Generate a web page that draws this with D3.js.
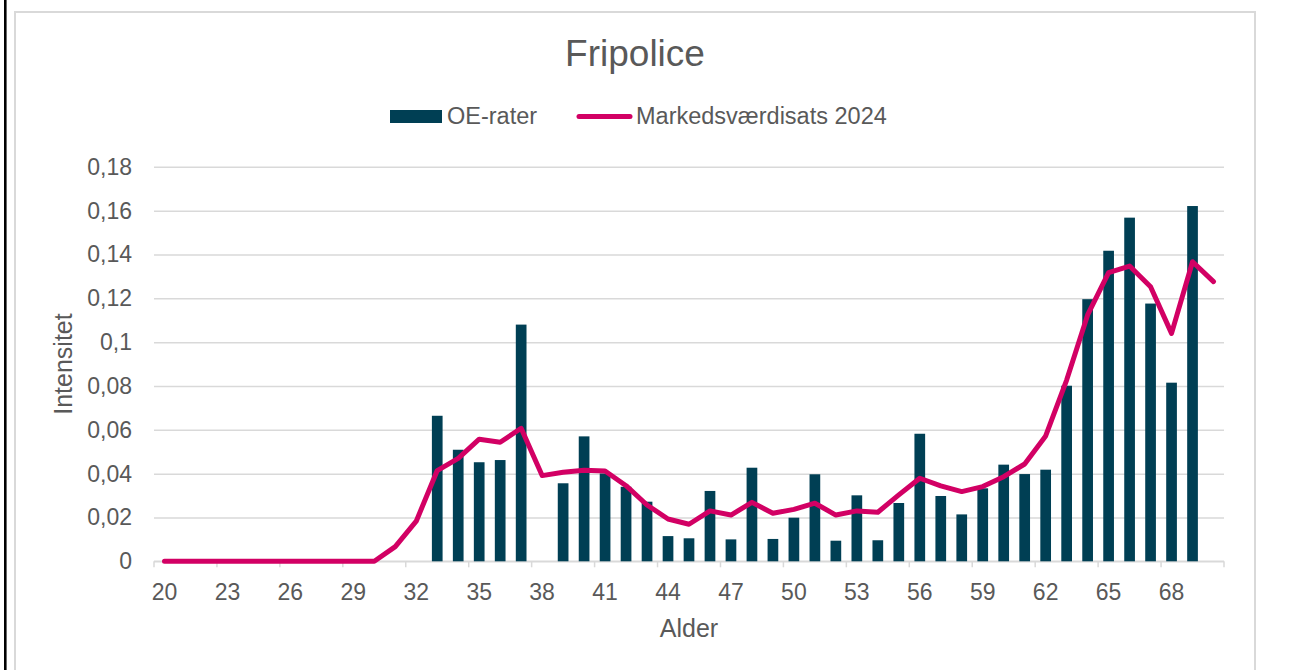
<!DOCTYPE html>
<html>
<head>
<meta charset="utf-8">
<script src="https://cdn.jsdelivr.net/npm/d3@7"></script>
<style>
  body { margin: 0; background: #fff; }
  text { font-family: "Liberation Sans", Arial, sans-serif; fill: #595959; }
</style>
</head>
<body>
<script>
// ages on the x axis
var ages = [20, 21, 22, 23, 24, 25, 26, 27, 28, 29, 30, 31, 32, 33, 34, 35, 36, 37, 38, 39,
  40, 41, 42, 43, 44, 45, 46, 47, 48, 49, 50, 51, 52, 53, 54, 55, 56, 57, 58, 59,
  60, 61, 62, 63, 64, 65, 66, 67, 68, 69, 70];

// OE-rater (bars)
var oeRater = [0, 0, 0, 0, 0, 0, 0, 0, 0, 0, 0, 0, 0, 0.0664, 0.0509, 0.0452, 0.0462, 0.1080, 0, 0.0356,
  0.0570, 0.0401, 0.0340, 0.0272, 0.0115, 0.0105, 0.0321, 0.0100, 0.0427, 0.0102, 0.0199, 0.0397, 0.0094, 0.0301, 0.0096, 0.0266, 0.0582, 0.0298, 0.0214, 0.0333,
  0.0441, 0.0398, 0.0418, 0.0801, 0.1196, 0.1417, 0.1568, 0.1176, 0.0815, 0.1621, 0];

// Markedsværdisats 2024 (line)
var markedsvaerdi = [0, 0, 0, 0, 0, 0, 0, 0, 0, 0, 0, 0.0067, 0.0183, 0.0414, 0.0470, 0.0557, 0.0543, 0.0607, 0.0391, 0.0406,
  0.0415, 0.0412, 0.0345, 0.0257, 0.0193, 0.0169, 0.0230, 0.0211, 0.0269, 0.0219, 0.0237, 0.0265, 0.0211, 0.0230, 0.0224, 0.0303, 0.0379, 0.0344, 0.0318, 0.0341,
  0.0386, 0.0444, 0.0572, 0.0827, 0.1124, 0.1317, 0.1347, 0.1253, 0.1040, 0.1367, 0.1276];

var yTicks = [0, 0.02, 0.04, 0.06, 0.08, 0.1, 0.12, 0.14, 0.16, 0.18];
var xLabelAges = [20, 23, 26, 29, 32, 35, 38, 41, 44, 47, 50, 53, 56, 59, 62, 65, 68];

var barColor = '#003f54';
var lineColor = '#d20064';
var gridColor = '#d9d9d9';

var W = 1303, H = 670;
var plot = { left: 154, right: 1224, top: 166.8, bottom: 561.3 };

var svg = d3.select('body').append('svg')
  .attr('width', W)
  .attr('height', H);

svg.append('rect').attr('width', W).attr('height', H).attr('fill', '#fff');

// outer frame: black line on the left, grey chart border
svg.append('line')
  .attr('x1', 5.3).attr('x2', 5.3).attr('y1', 0).attr('y2', H)
  .attr('stroke', '#000').attr('stroke-width', 2.6);
svg.append('path')
  .attr('d', 'M15,' + H + 'V12H1255V' + H)
  .attr('fill', 'none')
  .attr('stroke', gridColor).attr('stroke-width', 2);

var x = d3.scaleBand()
  .domain(ages)
  .range([plot.left, plot.right])
  .paddingInner(0.49)
  .paddingOuter(0.245);

var xc = d3.scaleBand().domain(ages).range([plot.left, plot.right]);

var y = d3.scaleLinear()
  .domain([0, 0.18])
  .range([plot.bottom, plot.top]);

function fmt(v) {
  return String(+v.toFixed(2)).replace('.', ',');
}

// gridlines + y labels
var yAxis = d3.axisLeft(y)
  .tickValues(yTicks)
  .tickSize(plot.right - plot.left)
  .tickFormat(fmt)
  .tickPadding(22);
var yg = svg.append('g')
  .attr('transform', 'translate(' + plot.right + ',0)')
  .call(yAxis);
yg.select('.domain').remove();
yg.selectAll('.tick line').attr('stroke', gridColor).attr('stroke-width', 1.5);
yg.selectAll('.tick text')
  .attr('font-size', 23)
  .attr('fill', '#595959')
  .style('font-family', '"Liberation Sans", Arial, sans-serif');

// x axis line and tick marks on category borders every 3rd category
svg.append('line')
  .attr('x1', plot.left).attr('x2', plot.right)
  .attr('y1', plot.bottom).attr('y2', plot.bottom)
  .attr('stroke', gridColor).attr('stroke-width', 1.5);

var tickEdges = ages.filter(function (a, i) { return i % 3 === 0; })
  .map(function (a) { return xc(a); })
  .concat([plot.right]);
svg.selectAll('.xtick')
  .data(tickEdges)
  .enter().append('line')
  .attr('class', 'xtick')
  .attr('x1', function (d) { return d; })
  .attr('x2', function (d) { return d; })
  .attr('y1', plot.bottom)
  .attr('y2', plot.bottom + 6)
  .attr('stroke', gridColor).attr('stroke-width', 1.5);

svg.selectAll('.xlabel')
  .data(xLabelAges)
  .enter().append('text')
  .attr('class', 'xlabel')
  .attr('x', function (d) { return xc(d) + xc.bandwidth() / 2; })
  .attr('y', 599.5)
  .attr('text-anchor', 'middle')
  .attr('font-size', 23)
  .text(function (d) { return d; });

// bars
svg.selectAll('.bar')
  .data(ages)
  .enter().append('rect')
  .attr('class', 'bar')
  .attr('x', function (d) { return x(d); })
  .attr('width', x.bandwidth())
  .attr('y', function (d, i) { return y(oeRater[i]); })
  .attr('height', function (d, i) { return y(0) - y(oeRater[i]); })
  .attr('fill', barColor);

// line
var line = d3.line()
  .x(function (d, i) { return xc(ages[i]) + xc.bandwidth() / 2; })
  .y(function (d) { return y(d); });

svg.append('path')
  .datum(markedsvaerdi)
  .attr('d', line)
  .attr('fill', 'none')
  .attr('stroke', lineColor)
  .attr('stroke-width', 5)
  .attr('stroke-linejoin', 'round')
  .attr('stroke-linecap', 'round');

// title
svg.append('text')
  .attr('x', 635).attr('y', 66)
  .attr('text-anchor', 'middle')
  .attr('font-size', 37)
  .text('Fripolice');

// legend
var lg = svg.append('g');
lg.append('rect')
  .attr('x', 390).attr('y', 110).attr('width', 52).attr('height', 13)
  .attr('fill', barColor);
lg.append('text')
  .attr('x', 447).attr('y', 124)
  .attr('font-size', 23.5)
  .text('OE-rater');
lg.append('line')
  .attr('x1', 579).attr('x2', 630).attr('y1', 116.5).attr('y2', 116.5)
  .attr('stroke', lineColor).attr('stroke-width', 5)
  .attr('stroke-linecap', 'round');
lg.append('text')
  .attr('x', 636).attr('y', 124)
  .attr('font-size', 23.5)
  .text('Markedsværdisats 2024');

// axis titles
svg.append('text')
  .attr('x', (plot.left + plot.right) / 2).attr('y', 637)
  .attr('text-anchor', 'middle')
  .attr('font-size', 25)
  .text('Alder');

svg.append('text')
  .attr('transform', 'translate(72,' + ((plot.top + plot.bottom) / 2) + ') rotate(-90)')
  .attr('text-anchor', 'middle')
  .attr('font-size', 25)
  .text('Intensitet');
</script>
</body>
</html>
